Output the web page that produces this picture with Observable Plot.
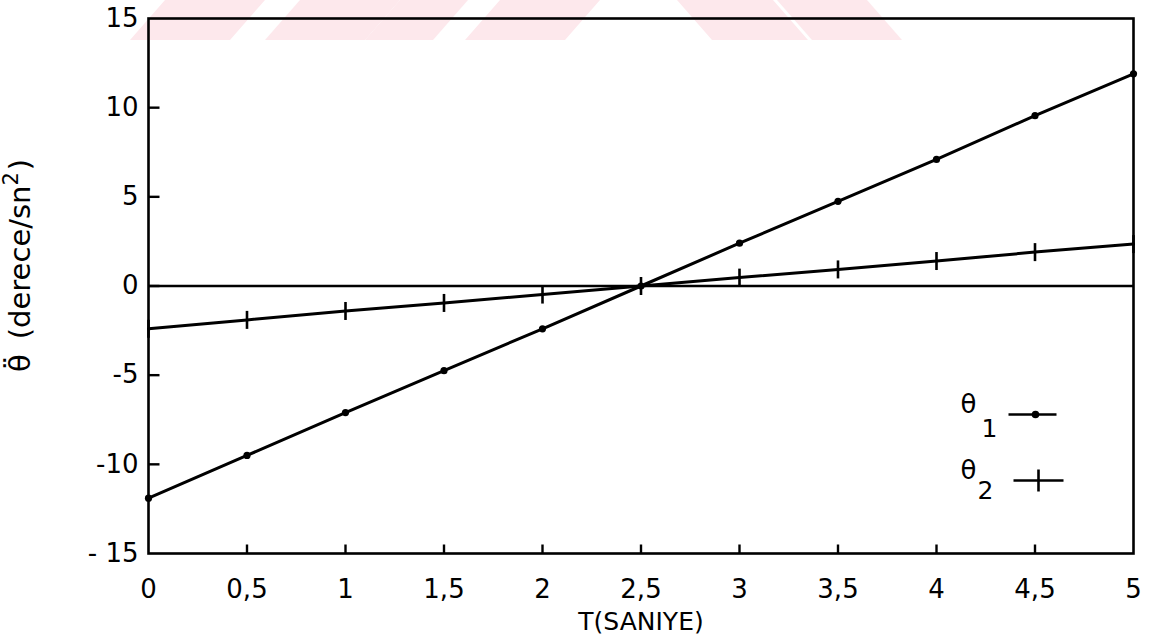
<!DOCTYPE html>
<html>
<head>
<meta charset="utf-8">
<script src="https://cdn.jsdelivr.net/npm/d3@7"></script>
<script src="https://cdn.jsdelivr.net/npm/@observablehq/plot@0.6"></script>
<style>
  html, body { margin: 0; padding: 0; background: #fff; }
  #chart { position: relative; width: 1157px; height: 641px; }
  #wm { position: absolute; left: 0; top: 0; }
  #plot { position: absolute; left: 0; top: 0; }
</style>
</head>
<body>
<div id="chart"><svg id="wm" width="1157" height="641"></svg><div id="plot"></div></div>
<script>
// ---- data ----
const times = [0, 0.5, 1, 1.5, 2, 2.5, 3, 3.5, 4, 4.5, 5];
const theta1 = [-11.9, -9.5, -7.1, -4.75, -2.4, 0, 2.4, 4.75, 7.1, 9.55, 11.9];
const theta2 = [-2.4, -1.9, -1.4, -0.95, -0.48, 0, 0.47, 0.93, 1.4, 1.9, 2.35];
const xTickValues = [0, 0.5, 1, 1.5, 2, 2.5, 3, 3.5, 4, 4.5, 5];
const xTickLabels = ["0", "0,5", "1", "1,5", "2", "2,5", "3", "3,5", "4", "4,5", "5"];
const xInnerTicks = [0.5, 1, 1.5, 2, 2.5, 3, 3.5, 4, 4.5];
const yTickValues = [15, 10, 5, 0, -5, -10, -15];
const yTickLabels = ["15", "10", "5", "0", "-5", "-10", "- 15"];
const yInnerTicks = [10, 5, 0, -5, -10];
const seriesNames = ["θ", "θ"];
const seriesSubs = ["1", "2"];
const xLabel = "T(SANIYE)";

const rows1 = times.map((t, i) => ({t, v: theta1[i]}));
const rows2 = times.map((t, i) => ({t, v: theta2[i]}));

const seg = (x1, y1, x2, y2) => ({draw(ctx) { ctx.moveTo(x1, y1); ctx.lineTo(x2, y2); }});
const font = "'DejaVu Sans', Verdana, sans-serif";
const fs = 26;

const plot = Plot.plot({
  width: 1157,
  height: 641,
  marginLeft: 148,
  marginRight: 24,
  marginTop: 18,
  marginBottom: 88,
  style: {fontFamily: font, fontSize: fs + "px", color: "#000", background: "transparent"},
  x: {domain: [0, 5]},
  y: {domain: [-15, 15]},
  marks: [
    Plot.frame({stroke: "#000", strokeWidth: 2.6}),
    Plot.ruleY([0], {stroke: "#000", strokeWidth: 2.6}),
    Plot.axisY({ticks: yTickValues, tickSize: 0, tickPadding: 10, fontSize: fs,
      tickFormat: d => yTickLabels[yTickValues.indexOf(d)], label: null}),
    Plot.axisX({ticks: xTickValues, tickSize: 0, tickPadding: 26, fontSize: fs,
      tickFormat: d => xTickLabels[xTickValues.indexOf(d)], label: null}),
    Plot.dot(yInnerTicks, {y: d => d, frameAnchor: "left", symbol: seg(0, 0, 11, 0), fill: "none", stroke: "#000", strokeWidth: 2.4}),
    Plot.dot(xInnerTicks, {x: d => d, frameAnchor: "bottom", symbol: seg(0, 0, 0, -9), fill: "none", stroke: "#000", strokeWidth: 2.4}),
    Plot.text([xLabel], {frameAnchor: "bottom", dy: 76, fontSize: 25, fill: "#000", letterSpacing: "1.5px"}),
    // series
    Plot.line(rows1, {x: "t", y: "v", stroke: "#000", strokeWidth: 3}),
    Plot.dot(rows1, {x: "t", y: "v", r: 3.6, fill: "#000"}),
    Plot.line(rows2, {x: "t", y: "v", stroke: "#000", strokeWidth: 3}),
    Plot.dot(rows2, {x: "t", y: "v", symbol: seg(0, -9, 0, 9), fill: "none", stroke: "#000", strokeWidth: 2.6}),
    // legend
    Plot.text([seriesNames[0]], {frameAnchor: "bottom-right", dx: -157, dy: -141, fontSize: 26, fill: "#000"}),
    Plot.text([seriesSubs[0]], {frameAnchor: "bottom-right", dx: -136, dy: -117, fontSize: 25, fill: "#000"}),
    Plot.dot([0], {frameAnchor: "bottom-right", dx: -101, dy: -139, symbol: seg(-24, 0, 24, 0), fill: "none", stroke: "#000", strokeWidth: 2.6}),
    Plot.dot([0], {frameAnchor: "bottom-right", dx: -98, dy: -139, r: 3.8, fill: "#000"}),
    Plot.text([seriesNames[1]], {frameAnchor: "bottom-right", dx: -157, dy: -75, fontSize: 26, fill: "#000"}),
    Plot.text([seriesSubs[1]], {frameAnchor: "bottom-right", dx: -140, dy: -55, fontSize: 25, fill: "#000"}),
    Plot.dot([0], {frameAnchor: "bottom-right", dx: -95, dy: -73, symbol: seg(-25, 0, 25, 0), fill: "none", stroke: "#000", strokeWidth: 2.6}),
    Plot.dot([0], {frameAnchor: "bottom-right", dx: -95, dy: -73, symbol: seg(0, -11, 0, 11), fill: "none", stroke: "#000", strokeWidth: 2.6})
  ]
});
document.getElementById("plot").appendChild(plot);

// y-axis title (rotated): theta with two dots, "(derece/sn²)"
const svg = d3.select(plot);
const yt = svg.append("text")
  .attr("transform", "translate(30,372) rotate(-90)")
  .attr("text-anchor", "start")
  .attr("font-family", font)
  .attr("font-size", 29)
  .attr("fill", "#000");
yt.append("tspan").text("θ\u0308");
yt.append("tspan").attr("dx", 15).text("(derece/sn");
yt.append("tspan").attr("dy", -12).attr("font-size", 21).text("2");
yt.append("tspan").attr("dy", 12).attr("dx", 2).text(")");

// faint scan watermark at the top
const wm = d3.select("#wm");
const bands = [[165, 265, -1], [300, 400, -1], [400, 468, -1], [500, 600, -1], [677, 773, 1], [777, 867, 1]];
bands.forEach(([a, b, s]) => {
  const sh = 35 * s;
  wm.append("polygon")
    .attr("points", `${a},0 ${b},0 ${b + sh},40 ${a + sh},40`)
    .attr("fill", "#fde8ec");
});
</script>
</body>
</html>
